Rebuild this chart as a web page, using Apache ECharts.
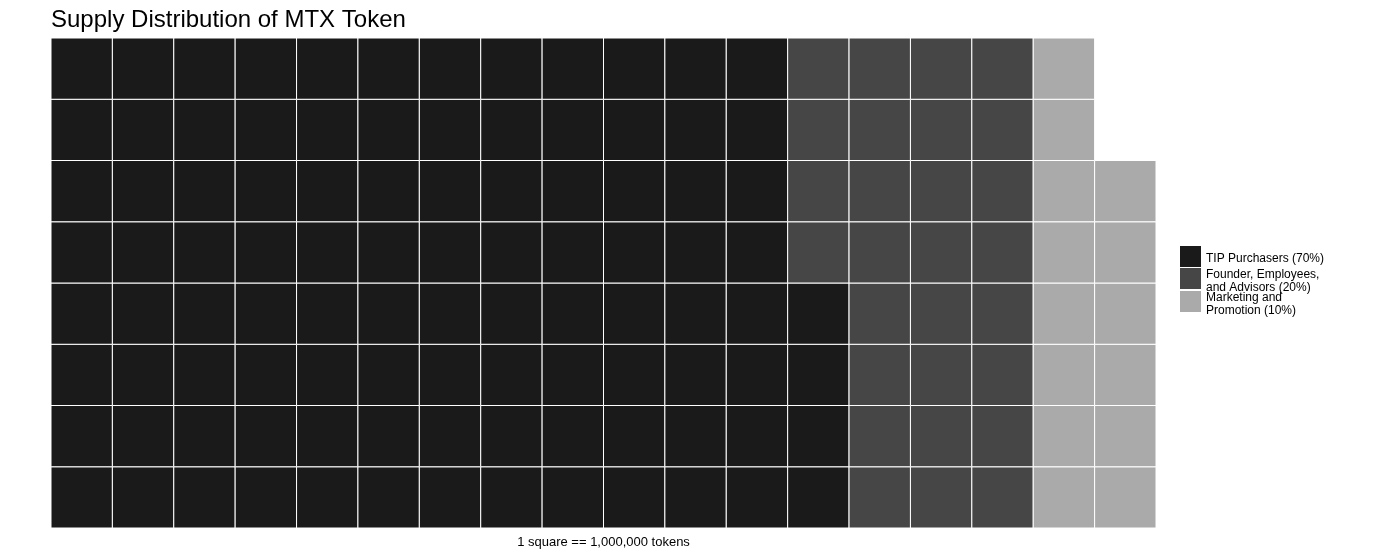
<!DOCTYPE html>
<html>
<head>
<meta charset="utf-8">
<script src="https://cdn.jsdelivr.net/npm/echarts@6/dist/echarts.min.js"></script>
<style>html,body{margin:0;padding:0;background:#fff;}#c{width:1385px;height:557px;}</style>
</head>
<body>
<div id="c"></div>
<script>
var categories = ['TIP Purchasers (70%)', 'Founder, Employees,\nand Advisors (20%)', 'Marketing and\nPromotion (10%)'];
var squares = [100, 28, 14];
var colors = ['#1a1a1a', '#464646', '#aaaaaa'];
var nRows = 8;
var nCols = 18;
var titleText = 'Supply Distribution of MTX Token';
var captionText = '1 square == 1,000,000 tokens';

// waffle fill: column by column, bottom to top
var seriesData = [[], [], []];
var idx = 0;
squares.forEach(function (n, k) {
  for (var j = 0; j < n; j++) {
    var col = Math.floor(idx / nRows);
    var row = idx % nRows;
    seriesData[k].push([col, row]);
    idx++;
  }
});

function renderItem(params, api) {
  var x = api.value(0), y = api.value(1);
  var p = api.coord([x, y + 1]);
  var s = api.size([1, 1]);
  return {
    type: 'rect',
    shape: { x: p[0], y: p[1], width: s[0], height: s[1] },
    style: { fill: api.visual('color'), stroke: '#ffffff', lineWidth: 1 }
  };
}

var font = 'Liberation Sans, Arial, sans-serif';
var legendTops = [246, 268, 291];
// key square occupies the top 21px of a 21x26 icon box, so the text sits slightly lower
var keyIcon = 'path://M0,0H21V21H0Z M0,26L21,26';
var legends = categories.map(function (name, k) {
  return {
    orient: 'vertical',
    left: 1180, top: legendTops[k],
    padding: 0,
    itemWidth: 21, itemHeight: 26,
    icon: keyIcon,
    itemStyle: { borderWidth: 0 },
    textStyle: { fontFamily: font, fontSize: 12, lineHeight: 13, color: '#000' },
    data: [name]
  };
});

var chart = echarts.init(document.getElementById('c'), null, { renderer: 'canvas' });
chart.setOption({
  animation: false,
  backgroundColor: '#ffffff',
  title: {
    text: titleText,
    left: 46, top: 3,
    textStyle: { fontFamily: font, fontSize: 24, fontWeight: 'normal', color: '#000' }
  },
  grid: { left: 51, top: 38, width: 1105, height: 490 },
  xAxis: { type: 'value', min: 0, max: nCols, show: false },
  yAxis: { type: 'value', min: 0, max: nRows, show: false },
  legend: legends,
  graphic: [{
    type: 'text',
    x: 603.5, y: 542,
    style: { text: captionText, font: '13px ' + font, fill: '#000', align: 'center', verticalAlign: 'middle' }
  }],
  series: categories.map(function (name, k) {
    return {
      name: name,
      type: 'custom',
      renderItem: renderItem,
      itemStyle: { color: colors[k] },
      data: seriesData[k],
      encode: { x: 0, y: 1 }
    };
  })
});
</script>
</body>
</html>
